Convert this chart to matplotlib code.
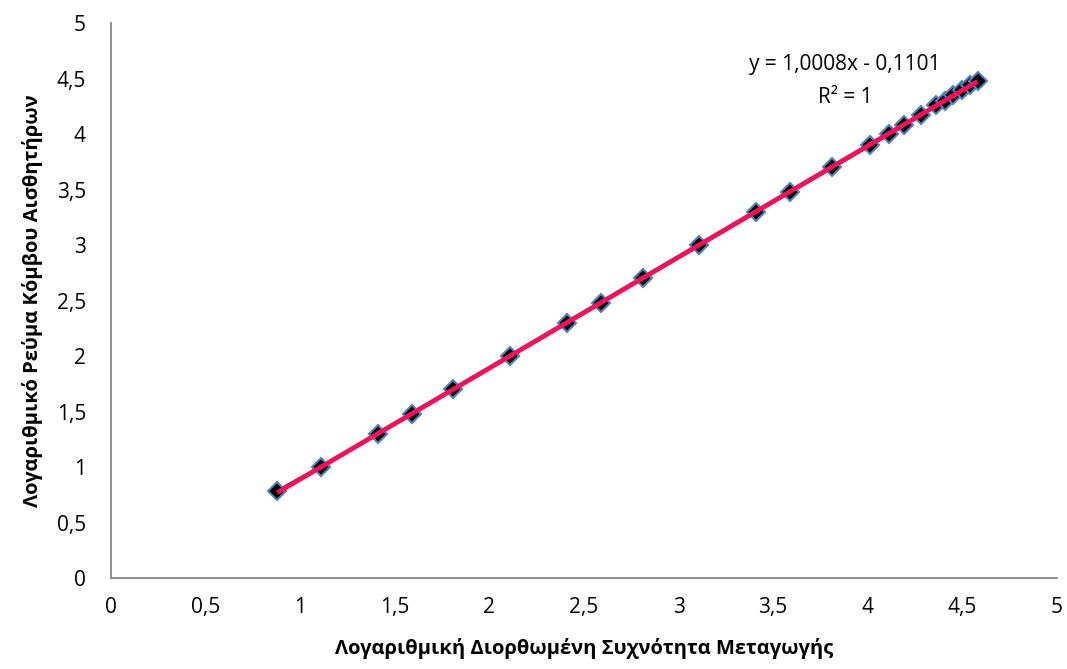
import numpy as np
import matplotlib
matplotlib.use('Agg')
import matplotlib.pyplot as plt

# values
x_vals = [0.88, 1.11, 1.41, 1.59, 1.81, 2.11, 2.41, 2.59, 2.81, 3.11, 3.41, 3.59,
          3.81, 4.01, 4.11, 4.19, 4.28, 4.36, 4.41, 4.45, 4.50, 4.54, 4.58]
y_vals = [0.78, 1.00, 1.30, 1.48, 1.70, 2.00, 2.30, 2.48, 2.70, 3.00, 3.30, 3.48,
          3.70, 3.90, 4.00, 4.08, 4.17, 4.26, 4.30, 4.35, 4.40, 4.44, 4.48]
ticks = [0, 0.5, 1, 1.5, 2, 2.5, 3, 3.5, 4, 4.5, 5]
tick_labels = ['0', '0,5', '1', '1,5', '2', '2,5', '3', '3,5', '4', '4,5', '5']
xlabel = 'Λογαριθμική Διορθωμένη Συχνότητα Μεταγωγής'
ylabel = 'Λογαριθμικό Ρεύμα Κόμβου Αισθητήρων'
eq_text = 'y = 1,0008x - 0,1101'
r2_text = 'R² = 1'

plt.rcParams['font.family'] = ['Open Sans', 'DejaVu Sans']

fig = plt.figure(figsize=(10.67, 6.69), dpi=100)
ax = fig.add_axes([0.104, 0.136, 0.8866, 0.8296])

x = np.array(x_vals)
y = np.array(y_vals)

# data series: black line with diamond markers
ax.plot(x, y, color='black', lw=2.8, marker='D', markersize=9.5,
        markerfacecolor='black', markeredgecolor='#4F81BD', markeredgewidth=1.5,
        zorder=3)

# linear trendline
coef = np.polyfit(x, y, 1)
xt = np.array([x.min(), x.max()])
ax.plot(xt, np.polyval(coef, xt), color='#F5105C', lw=3.4, solid_capstyle='butt',
        zorder=4)

ax.text(3.88, 4.63, eq_text, ha='center', va='center', fontsize=15)
ax.text(3.88, 4.33, r2_text, ha='center', va='center', fontsize=15)

ax.set_xlim(0, 5)
ax.set_ylim(0, 5)
ax.set_xticks(ticks)
ax.set_xticklabels(tick_labels)
ax.set_yticks(ticks)
ax.set_yticklabels(tick_labels)
ax.tick_params(axis='both', length=0, labelsize=15)
ax.tick_params(axis='x', pad=14)
ax.tick_params(axis='y', pad=18)

ax.set_xlabel(xlabel, fontsize=14.5, fontweight='bold', labelpad=14)
ax.set_ylabel(ylabel, fontsize=14.5, fontweight='bold', labelpad=10)

for s in ['top', 'right']:
    ax.spines[s].set_visible(False)
for s in ['left', 'bottom']:
    ax.spines[s].set_color('#868686')
    ax.spines[s].set_linewidth(1.3)

fig.savefig('out.png', dpi=100)
